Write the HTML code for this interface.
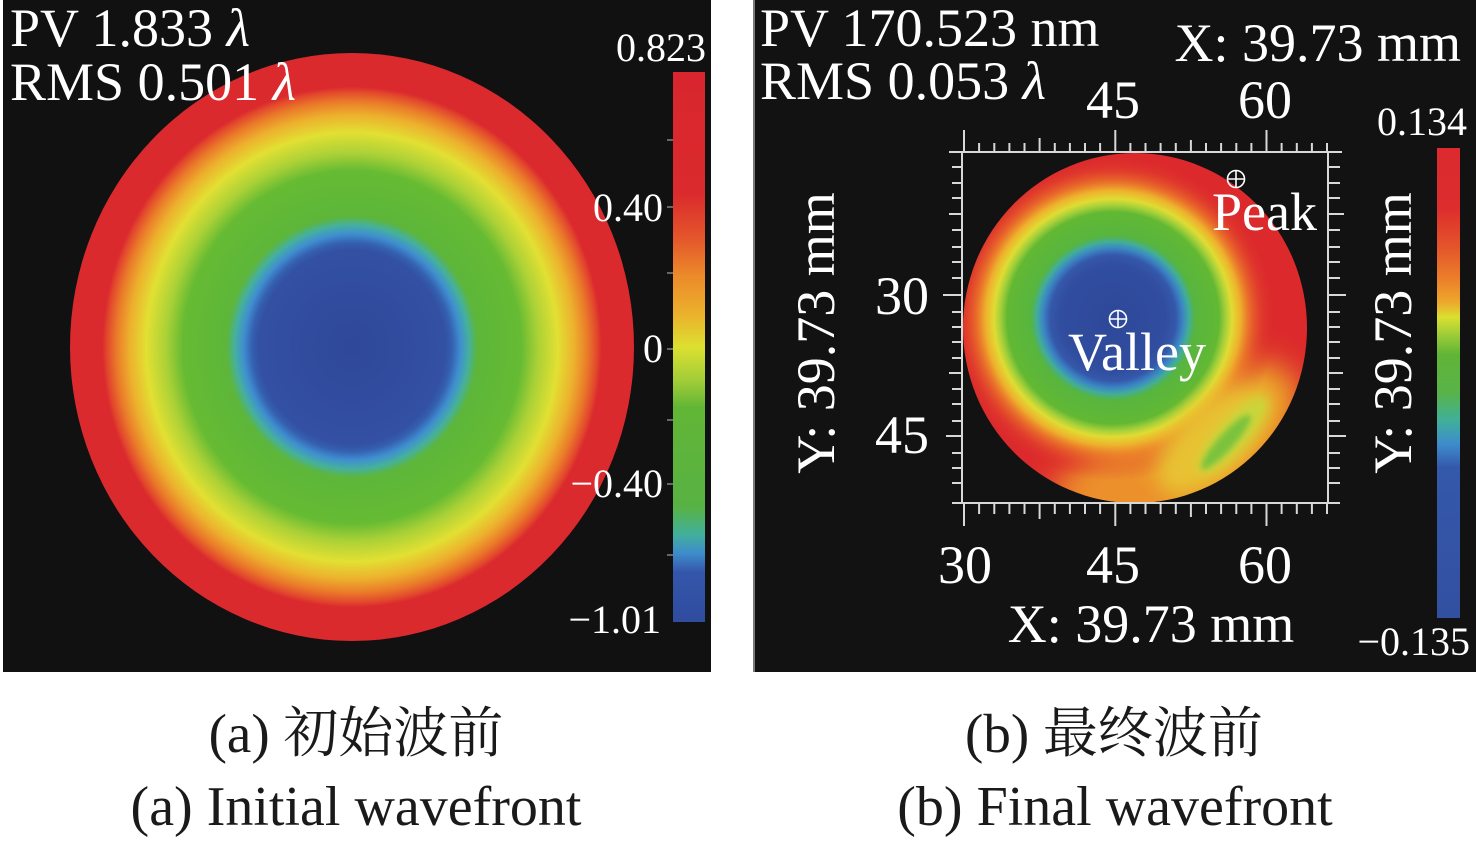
<!DOCTYPE html>
<html><head><meta charset="utf-8"><style>
html,body{margin:0;padding:0;background:#fff;}
svg{display:block;}
text{font-family:"Liberation Serif","Noto Serif CJK SC",serif;}
</style></head><body>
<svg width="1476" height="843" viewBox="0 0 1476 843" xmlns="http://www.w3.org/2000/svg" font-family="'Liberation Serif', 'Noto Serif CJK SC', serif">
<defs>
  <radialGradient id="gL" cx="0.5" cy="0.5" r="0.5">
    <stop offset="0" stop-color="#2f4899"/>
    <stop offset="0.33" stop-color="#3350a2"/>
    <stop offset="0.355" stop-color="#3560b0"/>
    <stop offset="0.385" stop-color="#3f8fd0"/>
    <stop offset="0.415" stop-color="#45b09e"/>
    <stop offset="0.445" stop-color="#5db63a"/>
    <stop offset="0.60" stop-color="#66bb33"/>
    <stop offset="0.66" stop-color="#abd136"/>
    <stop offset="0.73" stop-color="#e2e033"/>
    <stop offset="0.79" stop-color="#edb02d"/>
    <stop offset="0.835" stop-color="#ea7b2a"/>
    <stop offset="0.87" stop-color="#e2462c"/>
    <stop offset="0.885" stop-color="#da2a2e"/>
    <stop offset="1" stop-color="#da2a2e"/>
  </radialGradient>
  <linearGradient id="cbL" x1="0" y1="0" x2="0" y2="1">
    <stop offset="0" stop-color="#d9262e"/>
    <stop offset="0.22" stop-color="#da2a2d"/>
    <stop offset="0.30" stop-color="#e4542b"/>
    <stop offset="0.37" stop-color="#eb8a2a"/>
    <stop offset="0.44" stop-color="#ebb02c"/>
    <stop offset="0.50" stop-color="#dce030"/>
    <stop offset="0.56" stop-color="#a3cd38"/>
    <stop offset="0.61" stop-color="#62b636"/>
    <stop offset="0.79" stop-color="#58b243"/>
    <stop offset="0.84" stop-color="#42b09a"/>
    <stop offset="0.875" stop-color="#3e8ccc"/>
    <stop offset="0.91" stop-color="#3456aa"/>
    <stop offset="1" stop-color="#2f4c9f"/>
  </linearGradient>
  <linearGradient id="cbR" x1="0" y1="0" x2="0" y2="1">
    <stop offset="0" stop-color="#dc2a2e"/>
    <stop offset="0.13" stop-color="#dd2d2d"/>
    <stop offset="0.21" stop-color="#e4542b"/>
    <stop offset="0.28" stop-color="#eb802a"/>
    <stop offset="0.33" stop-color="#ecaa2c"/>
    <stop offset="0.36" stop-color="#dae030"/>
    <stop offset="0.40" stop-color="#9acb38"/>
    <stop offset="0.44" stop-color="#60b536"/>
    <stop offset="0.52" stop-color="#59b348"/>
    <stop offset="0.58" stop-color="#40b09a"/>
    <stop offset="0.63" stop-color="#3e8ccc"/>
    <stop offset="0.68" stop-color="#3458ab"/>
    <stop offset="1" stop-color="#3350a0"/>
  </linearGradient>
  <radialGradient id="gR" gradientUnits="userSpaceOnUse" cx="1113" cy="318" r="175">
    <stop offset="0" stop-color="#2e4899"/>
    <stop offset="0.30" stop-color="#314d9f"/>
    <stop offset="0.36" stop-color="#3558aa"/>
    <stop offset="0.40" stop-color="#3b86c4"/>
    <stop offset="0.435" stop-color="#42ad9a"/>
    <stop offset="0.47" stop-color="#57b53f"/>
    <stop offset="0.605" stop-color="#62b833"/>
    <stop offset="0.645" stop-color="#a6d03a"/>
    <stop offset="0.68" stop-color="#e0dc33"/>
    <stop offset="0.73" stop-color="#eeb02c" stop-opacity="1"/>
    <stop offset="0.78" stop-color="#ec7e2a" stop-opacity="0.8"/>
    <stop offset="0.86" stop-color="#e34a2b" stop-opacity="0.35"/>
    <stop offset="0.93" stop-color="#dc2a2c" stop-opacity="0"/>
  </radialGradient>
  <clipPath id="cR"><ellipse cx="1135" cy="328" rx="172" ry="175"/></clipPath>
  <filter id="b15" x="-50%" y="-50%" width="200%" height="200%"><feGaussianBlur stdDeviation="15"/></filter>
  <filter id="b10" x="-50%" y="-50%" width="200%" height="200%"><feGaussianBlur stdDeviation="10"/></filter>
  <filter id="b5" x="-50%" y="-50%" width="200%" height="200%"><feGaussianBlur stdDeviation="5"/></filter>
  <filter id="b3" x="-50%" y="-50%" width="200%" height="200%"><feGaussianBlur stdDeviation="3"/></filter>
</defs>

<rect x="0" y="0" width="1476" height="843" fill="#fff"/>

<!-- LEFT PANEL -->
<rect x="3" y="0" width="708" height="672" fill="#111"/>
<ellipse cx="352" cy="347" rx="282" ry="294" fill="url(#gL)"/>
<rect x="673" y="72" width="32" height="550" fill="url(#cbL)"/>
<g stroke="#666" stroke-width="2">
  <line x1="667" y1="140" x2="673" y2="140"/>
  <line x1="667" y1="207" x2="673" y2="207"/>
  <line x1="667" y1="273" x2="673" y2="273"/>
  <line x1="667" y1="349" x2="673" y2="349"/>
  <line x1="667" y1="420" x2="673" y2="420"/>
  <line x1="667" y1="484" x2="673" y2="484"/>
  <line x1="667" y1="555" x2="673" y2="555"/>
</g>
<g fill="#fff" font-size="54">
  <text x="10" y="46">PV 1.833 <tspan font-style="italic">λ</tspan></text>
  <text x="10" y="100">RMS 0.501 <tspan font-style="italic">λ</tspan></text>
</g>
<g fill="#fff" font-size="40" text-anchor="end">
  <text x="706" y="61">0.823</text>
  <text x="663" y="221">0.40</text>
  <text x="663" y="362">0</text>
  <text x="663" y="497">−0.40</text>
  <text x="661" y="633">−1.01</text>
</g>

<!-- separator -->
<rect x="753" y="0" width="2" height="672" fill="#7a7a7a"/>

<!-- RIGHT PANEL -->
<rect x="755" y="0" width="721" height="672" fill="#121212"/>

<g clip-path="url(#cR)">
  <rect x="950" y="140" width="370" height="380" fill="#dc2a2c"/>
  <ellipse cx="1190" cy="450" rx="125" ry="62" transform="rotate(-35 1190 450)" fill="#eca52b" filter="url(#b15)"/>
  <ellipse cx="1130" cy="492" rx="80" ry="30" fill="#ec8f2a" filter="url(#b15)"/>
  <rect x="950" y="140" width="370" height="380" fill="url(#gR)"/>
  <ellipse cx="1212" cy="440" rx="70" ry="34" transform="rotate(-45 1212 440)" fill="#e8c230" filter="url(#b10)"/>
  <ellipse cx="1233" cy="435" rx="50" ry="15" transform="rotate(-48 1233 435)" fill="#c9d63a" filter="url(#b5)"/>
  <ellipse cx="1226" cy="442" rx="36" ry="8" transform="rotate(-48 1226 442)" fill="#7cc23d" filter="url(#b3)"/>
</g>

<!-- frame -->
<g stroke="#d8d8d8" stroke-width="2" fill="none">
  <line x1="949" y1="152" x2="1342" y2="152"/>
  <line x1="952" y1="503" x2="1340" y2="503"/>
  <line x1="962" y1="152" x2="962" y2="504"/>
  <line x1="1328" y1="152" x2="1328" y2="504"/>
</g>
<!-- top ticks -->
<g stroke="#d8d8d8" stroke-width="2">
  <line x1="964" y1="130" x2="964" y2="152"/>
  <line x1="979.1" y1="143" x2="979.1" y2="152"/>
  <line x1="994.3" y1="143" x2="994.3" y2="152"/>
  <line x1="1009.4" y1="143" x2="1009.4" y2="152"/>
  <line x1="1024.5" y1="143" x2="1024.5" y2="152"/>
  <line x1="1039.6" y1="138" x2="1039.6" y2="152"/>
  <line x1="1054.8" y1="143" x2="1054.8" y2="152"/>
  <line x1="1069.9" y1="143" x2="1069.9" y2="152"/>
  <line x1="1085" y1="143" x2="1085" y2="152"/>
  <line x1="1100.1" y1="143" x2="1100.1" y2="152"/>
  <line x1="1115.3" y1="130" x2="1115.3" y2="152"/>
  <line x1="1130.4" y1="143" x2="1130.4" y2="152"/>
  <line x1="1145.5" y1="143" x2="1145.5" y2="152"/>
  <line x1="1160.6" y1="143" x2="1160.6" y2="152"/>
  <line x1="1175.8" y1="143" x2="1175.8" y2="152"/>
  <line x1="1190.9" y1="140" x2="1190.9" y2="152"/>
  <line x1="1206" y1="143" x2="1206" y2="152"/>
  <line x1="1221.1" y1="143" x2="1221.1" y2="152"/>
  <line x1="1236.3" y1="143" x2="1236.3" y2="152"/>
  <line x1="1251.4" y1="143" x2="1251.4" y2="152"/>
  <line x1="1266.5" y1="130" x2="1266.5" y2="152"/>
  <line x1="1281.6" y1="143" x2="1281.6" y2="152"/>
  <line x1="1296.8" y1="143" x2="1296.8" y2="152"/>
  <line x1="1311.9" y1="143" x2="1311.9" y2="152"/>
  <line x1="1327" y1="143" x2="1327" y2="152"/>
</g>
<!-- bottom ticks -->
<g stroke="#d8d8d8" stroke-width="2">
  <line x1="964" y1="504" x2="964" y2="526"/>
  <line x1="979.1" y1="504" x2="979.1" y2="514"/>
  <line x1="994.3" y1="504" x2="994.3" y2="514"/>
  <line x1="1009.4" y1="504" x2="1009.4" y2="514"/>
  <line x1="1024.5" y1="504" x2="1024.5" y2="514"/>
  <line x1="1039.6" y1="504" x2="1039.6" y2="519"/>
  <line x1="1054.8" y1="504" x2="1054.8" y2="514"/>
  <line x1="1069.9" y1="504" x2="1069.9" y2="514"/>
  <line x1="1085" y1="504" x2="1085" y2="514"/>
  <line x1="1100.1" y1="504" x2="1100.1" y2="514"/>
  <line x1="1115.3" y1="504" x2="1115.3" y2="526"/>
  <line x1="1130.4" y1="504" x2="1130.4" y2="514"/>
  <line x1="1145.5" y1="504" x2="1145.5" y2="514"/>
  <line x1="1160.6" y1="504" x2="1160.6" y2="514"/>
  <line x1="1175.8" y1="504" x2="1175.8" y2="514"/>
  <line x1="1190.9" y1="504" x2="1190.9" y2="517"/>
  <line x1="1206" y1="504" x2="1206" y2="514"/>
  <line x1="1221.1" y1="504" x2="1221.1" y2="514"/>
  <line x1="1236.3" y1="504" x2="1236.3" y2="514"/>
  <line x1="1251.4" y1="504" x2="1251.4" y2="514"/>
  <line x1="1266.5" y1="504" x2="1266.5" y2="526"/>
  <line x1="1281.6" y1="504" x2="1281.6" y2="514"/>
  <line x1="1296.8" y1="504" x2="1296.8" y2="514"/>
  <line x1="1311.9" y1="504" x2="1311.9" y2="514"/>
  <line x1="1327" y1="504" x2="1327" y2="514"/>
</g>
<!-- left ticks -->
<g stroke="#d8d8d8" stroke-width="2">
  <line x1="952" y1="167" x2="962" y2="167"/>
  <line x1="952" y1="183" x2="962" y2="183"/>
  <line x1="952" y1="198" x2="962" y2="198"/>
  <line x1="949" y1="214" x2="962" y2="214"/>
  <line x1="952" y1="230" x2="962" y2="230"/>
  <line x1="952" y1="247" x2="962" y2="247"/>
  <line x1="952" y1="262" x2="962" y2="262"/>
  <line x1="952" y1="278" x2="962" y2="278"/>
  <line x1="943" y1="295" x2="962" y2="295"/>
  <line x1="952" y1="312" x2="962" y2="312"/>
  <line x1="952" y1="327" x2="962" y2="327"/>
  <line x1="952" y1="342" x2="962" y2="342"/>
  <line x1="952" y1="358" x2="962" y2="358"/>
  <line x1="949" y1="373" x2="962" y2="373"/>
  <line x1="952" y1="389" x2="962" y2="389"/>
  <line x1="952" y1="404" x2="962" y2="404"/>
  <line x1="952" y1="421" x2="962" y2="421"/>
  <line x1="946" y1="436" x2="962" y2="436"/>
  <line x1="952" y1="453" x2="962" y2="453"/>
  <line x1="952" y1="468" x2="962" y2="468"/>
  <line x1="952" y1="483" x2="962" y2="483"/>
</g>
<!-- right ticks -->
<g stroke="#d8d8d8" stroke-width="2">
  <line x1="1328" y1="167" x2="1340" y2="167"/>
  <line x1="1328" y1="183" x2="1340" y2="183"/>
  <line x1="1328" y1="198" x2="1340" y2="198"/>
  <line x1="1328" y1="214" x2="1344" y2="214"/>
  <line x1="1328" y1="230" x2="1340" y2="230"/>
  <line x1="1328" y1="247" x2="1340" y2="247"/>
  <line x1="1328" y1="262" x2="1340" y2="262"/>
  <line x1="1328" y1="278" x2="1340" y2="278"/>
  <line x1="1328" y1="295" x2="1346" y2="295"/>
  <line x1="1328" y1="312" x2="1340" y2="312"/>
  <line x1="1328" y1="327" x2="1340" y2="327"/>
  <line x1="1328" y1="342" x2="1340" y2="342"/>
  <line x1="1328" y1="358" x2="1340" y2="358"/>
  <line x1="1328" y1="373" x2="1343" y2="373"/>
  <line x1="1328" y1="389" x2="1340" y2="389"/>
  <line x1="1328" y1="404" x2="1340" y2="404"/>
  <line x1="1328" y1="421" x2="1340" y2="421"/>
  <line x1="1328" y1="436" x2="1346" y2="436"/>
  <line x1="1328" y1="453" x2="1340" y2="453"/>
  <line x1="1328" y1="468" x2="1340" y2="468"/>
  <line x1="1328" y1="483" x2="1340" y2="483"/>
</g>

<!-- markers -->
<g stroke="#fff" stroke-width="1.6" fill="none">
  <circle cx="1236" cy="179" r="8.5"/>
  <line x1="1227.5" y1="179" x2="1244.5" y2="179"/>
  <line x1="1236" y1="170.5" x2="1236" y2="187.5"/>
  <circle cx="1118" cy="319" r="8.5"/>
  <line x1="1109.5" y1="319" x2="1126.5" y2="319"/>
  <line x1="1118" y1="310.5" x2="1118" y2="327.5"/>
</g>

<rect x="1437" y="148" width="23" height="470" fill="url(#cbR)"/>

<g fill="#fff" font-size="54">
  <text x="760" y="46">PV 170.523 nm</text>
  <text x="760" y="99">RMS 0.053 <tspan font-style="italic">λ</tspan></text>
  <text x="1461" y="61" text-anchor="end">X: 39.73 mm</text>
  <text x="1113" y="118" text-anchor="middle">45</text>
  <text x="1265" y="118" text-anchor="middle">60</text>
  <text x="929" y="314" text-anchor="end">30</text>
  <text x="929" y="453" text-anchor="end">45</text>
  <text x="965" y="583" text-anchor="middle">30</text>
  <text x="1113" y="583" text-anchor="middle">45</text>
  <text x="1265" y="583" text-anchor="middle">60</text>
  <text x="1151" y="642" text-anchor="middle">X: 39.73 mm</text>
  <text x="1212" y="230">Peak</text>
  <text x="1068" y="370">Valley</text>
  <text transform="translate(834,333) rotate(-90)" text-anchor="middle">Y: 39.73 mm</text>
  <text transform="translate(1411,333) rotate(-90)" text-anchor="middle">Y: 39.73 mm</text>
</g>
<g fill="#fff" font-size="40" text-anchor="end">
  <text x="1467" y="135">0.134</text>
  <text x="1470" y="655">−0.135</text>
</g>

<!-- captions -->
<g fill="#1a1a1a" font-size="55" text-anchor="middle">
  <text x="356" y="752">(a) 初始波前</text>
  <text x="1114" y="752">(b) 最终波前</text>
</g>
<g fill="#1a1a1a" font-size="56" text-anchor="middle">
  <text x="356" y="825">(a) Initial wavefront</text>
  <text x="1115" y="825">(b) Final wavefront</text>
</g>
</svg>
</body></html>
